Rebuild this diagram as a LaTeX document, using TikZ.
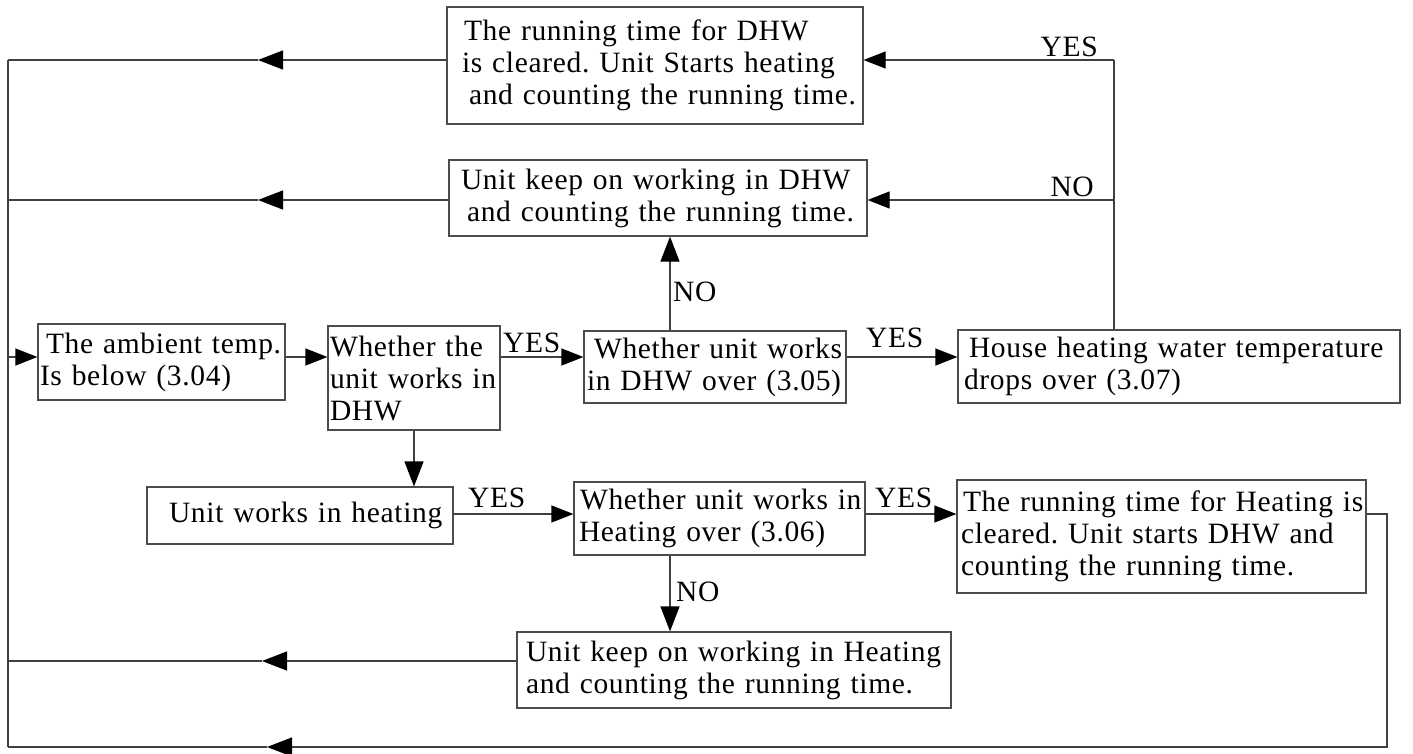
\documentclass[tikz,border=0pt]{standalone}
\usepackage{fontspec}
\setmainfont{Liberation Serif}[LetterSpace=2.3]
\usetikzlibrary{arrows.meta}
\newcommand\boxline[2]{\hspace*{#1pt}\mbox{#2}}
\begin{document}
\frenchspacing
\begin{tikzpicture}[x=1pt,y=-1pt,
  txt/.style={font=\fontsize{29.5}{32}\selectfont},
  box/.style={txt,draw=black!70,line width=1.2pt,inner xsep=2pt,inner ysep=0pt,align=left},
  ln/.style={draw=black!75,line width=1.2pt},
  arr/.style={ln,-{Triangle[length=25pt,width=19pt,color=black]}},
  arrs/.style={ln,-{Triangle[length=22pt,width=17pt,color=black]}},
  lbl/.style={txt,inner sep=0pt,anchor=base west}]
\useasboundingbox (0,0) rectangle (1413,753);
% boxes
\node[box,minimum width=416pt,minimum height=117pt,text width=412pt] (A) at (655,65.5)
  {\boxline{15}{The running time for DHW}\\\boxline{13}{is cleared. Unit Starts heating}\\\boxline{20}{and counting the running time.}};
\node[box,minimum width=418pt,minimum height=76pt,text width=414pt] (B) at (658,198)
  {\boxline{10}{Unit keep on working in DHW}\\\boxline{16}{and counting the running time.}};
\node[box,minimum width=247pt,minimum height=76pt,text width=243pt] (C) at (161.5,362)
  {\boxline{6}{The ambient temp.}\\\boxline{0}{Is below (3.04)}};
\node[box,minimum width=172pt,minimum height=104pt,text width=168pt] (E) at (414,378)
  {\boxline{0}{Whether the}\\\boxline{0}{unit works in}\\\boxline{0}{DHW}};
\node[box,minimum width=262pt,minimum height=72pt,text width=258pt] (F) at (715,367)
  {\boxline{8}{Whether unit works}\\\boxline{1}{in DHW over (3.05)}};
\node[box,minimum width=442pt,minimum height=73pt,text width=438pt] (D) at (1179,366.5)
  {\boxline{9}{House heating water temperature}\\\boxline{4}{drops over (3.07)}};
\node[box,minimum width=306pt,minimum height=57pt,text width=302pt] (Ht) at (300,515.5)
  {\boxline{20}{Unit works in heating}};
\node[box,minimum width=291pt,minimum height=73pt,text width=287pt] (G) at (719.5,518.5)
  {\boxline{4}{Whether unit works in}\\\boxline{3}{Heating over (3.06)}};
\node[box,minimum width=409pt,minimum height=113pt,text width=405pt] (H) at (1161.5,536.5)
  {\boxline{4}{The running time for Heating is}\\\boxline{2}{cleared. Unit starts DHW and}\\\boxline{2}{counting the running time.}};
\node[box,minimum width=434pt,minimum height=76pt,text width=430pt] (I) at (734,670)
  {\boxline{7}{Unit keep on working in Heating}\\\boxline{7}{and counting the running time.}};
% helper coordinates
\coordinate (busA) at (8,60);
\coordinate (busB) at (8,200);
\coordinate (busC) at (8,357);
\coordinate (busI) at (8,661);
\coordinate (busBot) at (8,747);
\coordinate (mA) at (258,60);
\coordinate (mB) at (258,200);
\coordinate (mI) at (262,661);
\coordinate (mBot) at (267,747);
\coordinate (dA) at (1114,60);
\coordinate (dB) at (1114,200);
\coordinate (colF) at (670,0);
\coordinate (rowG) at (0,514);
\coordinate (hR) at (1387,514);
\coordinate (hRb) at (1387,747);
% left bus
\draw[ln] (busA) -- (busBot);
\draw[arr] (A.west |- mA) -- (mA);
\draw[ln] (mA) -- (busA);
\draw[arr] (B.west |- mB) -- (mB);
\draw[ln] (mB) -- (busB);
\draw[arr] (I.west |- mI) -- (mI);
\draw[ln] (mI) -- (busI);
\draw[arrs] (busC) -- (C.west |- busC);
% main row
\draw[arrs] (C.east |- busC) -- (E.west |- busC);
\draw[arrs] (E.east |- busC) -- (F.west |- busC);
\draw[arrs] (F.east |- busC) -- (D.west |- busC);
\draw[arr] (F.north -| colF) -- (B.south -| colF);
\draw[ln] (D.north -| dA) -- (dA);
\draw[arrs] (dA) -- (A.east |- dA);
\draw[arrs] (dB) -- (B.east |- dB);
% lower rows
\draw[arr] (E.south) -- (Ht.north -| E.south);
\draw[arrs] (Ht.east |- rowG) -- (G.west |- rowG);
\draw[arrs] (G.east |- rowG) -- (H.west |- rowG);
\draw[arr] (G.south -| colF) -- (I.north -| colF);
\draw[arr] (H.east |- rowG) -- (hR) -- (hRb) -- (mBot);
\draw[ln] (mBot) -- (busBot);
% labels
\node[lbl,anchor=base east] (lY1) at (1098,56) {YES};
\node[lbl,anchor=base east] (lN1) at (1094,196) {NO};
\node[lbl] (lY2) at (503,352) {YES};
\node[lbl] (lY3) at (866,347) {YES};
\node[lbl] (lN2) at (673,301) {NO};
\node[lbl] (lY4) at (468,507) {YES};
\node[lbl] (lY5) at (875,507) {YES};
\node[lbl] (lN3) at (676,601) {NO};
\end{tikzpicture}
\end{document}
